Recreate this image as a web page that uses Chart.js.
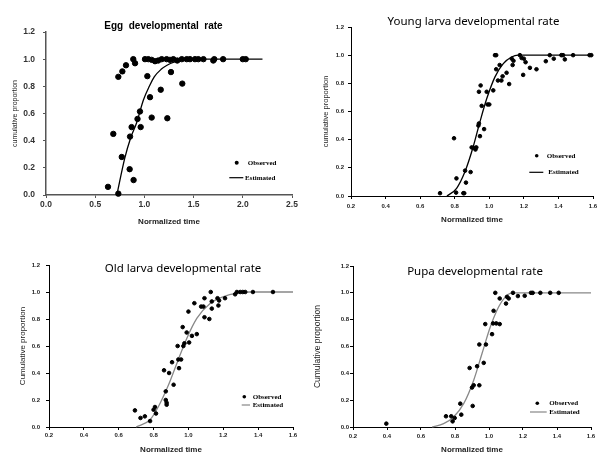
<!DOCTYPE html>
<html>
<head>
<meta charset="utf-8">
<script src="https://cdn.jsdelivr.net/npm/chart.js@4"></script>
<style>
body { margin: 0; background: #fff; }
#wrap { position: relative; width: 607px; height: 460px; }
canvas { position: absolute; }
</style>
</head>
<body>
<div id="wrap">
  <canvas id="egg" width="300" height="230" style="left:0;top:0"></canvas>
  <canvas id="young" width="307" height="230" style="left:300px;top:0"></canvas>
  <canvas id="old" width="300" height="230" style="left:0;top:230px"></canvas>
  <canvas id="pupa" width="307" height="230" style="left:300px;top:230px"></canvas>
</div>
<script>
// observed points and fitted curves
const eggObsX = [0.63,0.684,0.735,0.735,0.77,0.776,0.813,0.85,0.854,0.87,0.89,0.887,0.905,0.93,0.955,0.962,1.006,1.03,1.04,1.057,1.074,1.074,1.108,1.14,1.166,1.176,1.226,1.233,1.26,1.27,1.294,1.334,1.38,1.385,1.43,1.463,1.514,1.548,1.60,1.70,1.71,1.80,2.0,2.03];
const eggObsY = [0.06,0.45,0.01,0.87,0.28,0.91,0.955,0.19,0.43,0.50,0.11,1.0,0.97,0.56,0.615,0.50,1.0,0.875,1.0,0.72,0.57,0.995,0.985,0.99,0.775,1.0,1.0,0.565,0.995,0.905,1.0,0.99,1.0,0.82,1.0,1.0,1.0,1.0,1.0,0.99,1.0,1.0,1.0,1.0];
const eggFitX = [0.72,0.80,0.86,0.92,0.99,1.05,1.10,1.17,1.23,1.30,1.40,1.50,2.20];
const eggFitY = [0,0.27,0.42,0.53,0.70,0.80,0.87,0.925,0.955,0.978,0.995,1.0,1.0];

const youngObsX = [0.715,0.796,0.808,0.81,0.85,0.855,0.86,0.865,0.892,0.898,0.915,0.92,0.925,0.94,0.937,0.94,0.946,0.95,0.956,0.97,0.985,0.99,1.0,1.023,1.033,1.04,1.04,1.05,1.06,1.07,1.077,1.10,1.115,1.13,1.135,1.14,1.177,1.187,1.196,1.2,1.21,1.235,1.273,1.327,1.35,1.373,1.417,1.427,1.437,1.485,1.58,1.59];
const youngObsY = [0.02,0.41,0.024,0.125,0.02,0.02,0.18,0.095,0.17,0.345,0.34,0.33,0.345,0.515,0.50,0.74,0.425,0.785,0.64,0.475,0.74,0.65,0.65,0.75,1.0,1.0,0.90,0.82,0.93,0.82,0.85,0.875,0.795,0.975,0.93,0.96,1.0,0.98,0.86,0.975,0.95,0.91,0.90,0.957,1.0,0.975,1.0,1.0,0.97,1.0,1.0,1.0];
const youngFitX = [0.755,0.811,0.859,0.907,0.946,0.985,1.033,1.081,1.129,1.167,1.6];
const youngFitY = [0,0.055,0.172,0.35,0.527,0.69,0.846,0.94,0.987,1.0,1.0];

const oldObsX = [0.693,0.725,0.75,0.78,0.80,0.808,0.814,0.86,0.87,0.87,0.875,0.875,0.889,0.906,0.915,0.938,0.942,0.946,0.958,0.967,0.971,0.977,0.99,1.0,1.004,1.02,1.034,1.048,1.073,1.086,1.092,1.092,1.12,1.128,1.134,1.134,1.167,1.172,1.176,1.21,1.268,1.278,1.297,1.312,1.326,1.37,1.485];
const oldObsY = [0.123,0.067,0.079,0.044,0.128,0.148,0.10,0.42,0.20,0.264,0.18,0.165,0.40,0.48,0.313,0.60,0.50,0.436,0.50,0.74,0.60,0.62,0.70,0.855,0.626,0.675,0.917,0.688,0.892,0.892,0.813,0.954,0.80,1.0,0.93,0.877,0.954,0.90,0.937,0.954,0.983,1.0,1.0,1.0,1.0,1.0,1.0];
const oldFitX = [0.70,0.78,0.828,0.886,0.934,0.991,1.049,1.126,1.202,1.28,1.35,1.6];
const oldFitY = [0,0.054,0.152,0.313,0.473,0.658,0.806,0.917,0.966,0.991,1.0,1.0];

const pupaObsX = [0.396,0.747,0.778,0.786,0.798,0.831,0.837,0.886,0.90,0.904,0.91,0.93,0.943,0.943,0.969,0.978,0.982,1.018,1.024,1.027,1.037,1.043,1.063,1.063,1.10,1.106,1.116,1.141,1.17,1.21,1.247,1.257,1.302,1.36,1.41];
const pupaObsY = [0.025,0.08,0.08,0.042,0.067,0.174,0.092,0.44,0.294,0.157,0.311,0.453,0.311,0.615,0.478,0.767,0.615,0.692,0.772,0.866,1.0,0.772,0.767,0.958,0.92,0.97,0.958,1.0,0.976,0.978,1.0,1.0,1.0,1.0,1.0];
const pupaFitX = [0.665,0.733,0.792,0.851,0.91,0.959,1.008,1.057,1.096,1.125,1.165,1.6];
const pupaFitY = [0,0.025,0.075,0.174,0.349,0.548,0.747,0.896,0.97,0.996,1.0,1.0];

const toPts = (xs, ys) => xs.map((x, i) => ({ x: x, y: ys[i] }));

// title + in-plot legend
const panelText = {
    id: 'panelText',
    afterDraw(chart, args, o) {
        const ctx = chart.ctx;
        ctx.save();
        ctx.fillStyle = '#000';
        ctx.textBaseline = 'middle';
        ctx.textAlign = 'center';
        ctx.font = o.titleFont;
        ctx.fillText(o.title, o.titleX, o.titleY);

        ctx.textAlign = 'left';
        ctx.font = o.legendFont;
        ctx.beginPath();
        ctx.arc(o.dotX, o.dotY, o.dotR, 0, Math.PI * 2);
        ctx.fill();
        ctx.fillText('Observed', o.obsTextX, o.dotY);
        ctx.strokeStyle = o.lineColor;
        ctx.lineWidth = 1.2;
        ctx.beginPath();
        ctx.moveTo(o.lineX1, o.lineY);
        ctx.lineTo(o.lineX2, o.lineY);
        ctx.stroke();
        ctx.fillText('Estimated', o.estTextX, o.lineY);
        ctx.restore();
    }
};

function makePanel(id, p) {
    new Chart(document.getElementById(id), {
        type: 'scatter',
        data: {
            datasets: [{
                label: 'Observed',
                data: toPts(p.obsX, p.obsY),
                backgroundColor: '#000',
                borderColor: '#000',
                pointRadius: p.dotR,
                clip: false
            }, {
                label: 'Estimated',
                data: toPts(p.fitX, p.fitY),
                showLine: true,
                borderColor: p.lineColor,
                borderWidth: 1.3,
                pointRadius: 0,
                cubicInterpolationMode: 'monotone',
                clip: false
            }]
        },
        options: {
            responsive: false,
            animation: false,
            layout: { padding: { left: 0, top: p.top, right: p.right, bottom: 0 } },
            plugins: {
                legend: { display: false },
                tooltip: { enabled: false },
                panelText: p.text
            },
            scales: {
                x: {
                    type: 'linear',
                    min: p.xMin, max: p.xMax,
                    afterFit: s => { s.height = p.xH; },
                    border: { display: true, color: p.axisColor, width: p.axisW },
                    grid: { display: true, drawOnChartArea: false, drawTicks: true, tickLength: 3, color: p.axisColor },
                    ticks: {
                        stepSize: p.xStep, color: p.tickColor, padding: p.xPad,
                        font: { family: 'Liberation Sans', size: p.tickSize, weight: 'bold' },
                        maxRotation: 0,
                        callback: v => v.toFixed(1)
                    },
                    title: {
                        display: true, text: 'Normalized time', color: '#222',
                        font: { family: 'Liberation Sans', size: 8, weight: 'bold' },
                        padding: { top: 0, bottom: p.xTitlePad }
                    }
                },
                y: {
                    min: 0, max: 1.2,
                    afterFit: s => { s.width = p.yW; },
                    border: { display: true, color: p.axisColor, width: p.axisW },
                    grid: { display: true, drawOnChartArea: false, drawTicks: true, tickLength: 3, color: p.axisColor },
                    ticks: {
                        stepSize: 0.2, color: p.tickColor, padding: p.yPad,
                        font: { family: 'Liberation Sans', size: p.tickSize, weight: 'bold' },
                        callback: v => v.toFixed(1)
                    },
                    title: {
                        display: true, text: p.yTitle, color: '#222',
                        font: { family: 'Liberation Sans', size: p.yTitleSize },
                        padding: { top: p.yTitlePad, bottom: 0 }
                    }
                }
            }
        },
        plugins: [panelText]
    });
}

const serif = 'bold 7px "Liberation Serif"';
const sans = '11.5px "Noto Sans"';

makePanel('egg', {
    obsX: eggObsX, obsY: eggObsY, fitX: eggFitX, fitY: eggFitY,
    dotR: 2.7, lineColor: '#000', axisColor: '#555', axisW: 1.5, tickColor: '#333', tickSize: 8.5,
    xMin: 0, xMax: 2.5, xStep: 0.5, top: 32, right: 8, xH: 35, yW: 46,
    xPad: 2, yPad: 8, xTitlePad: 3.5, yTitle: 'cumulative proportion', yTitleSize: 7, yTitlePad: 10.8,
    text: { title: 'Egg  developmental  rate', titleFont: 'bold 10px "Liberation Sans"', titleX: 163.5, titleY: 26,
        legendFont: serif, dotX: 236.7, dotY: 162.7, dotR: 2, obsTextX: 247.7,
        lineX1: 229.3, lineX2: 243.3, lineY: 177.7, estTextX: 245, lineColor: '#000' }
});

makePanel('young', {
    obsX: youngObsX, obsY: youngObsY, fitX: youngFitX, fitY: youngFitY,
    dotR: 1.8, lineColor: '#000', axisColor: '#000', axisW: 1, tickColor: '#222', tickSize: 6,
    xMin: 0.2, xMax: 1.6, xStep: 0.2, top: 27, right: 14, xH: 34, yW: 51,
    xPad: 4, yPad: 4, xTitlePad: 5.2, yTitle: 'cumulative proportion', yTitleSize: 7.5, yTitlePad: 21.5,
    text: { title: 'Young larva developmental rate', titleFont: sans, titleX: 173.5, titleY: 22,
        legendFont: serif, dotX: 236.7, dotY: 155.7, dotR: 1.8, obsTextX: 246.7,
        lineX1: 229.3, lineX2: 243.3, lineY: 172.3, estTextX: 248.3, lineColor: '#000' }
});

makePanel('old', {
    obsX: oldObsX, obsY: oldObsY, fitX: oldFitX, fitY: oldFitY,
    dotR: 1.8, lineColor: '#888', axisColor: '#000', axisW: 1, tickColor: '#222', tickSize: 6,
    xMin: 0.2, xMax: 1.6, xStep: 0.2, top: 35, right: 7, xH: 33, yW: 49,
    xPad: 2, yPad: 6, xTitlePad: 5.2, yTitle: 'Cumulative proportion', yTitleSize: 8, yTitlePad: 17.9,
    text: { title: 'Old larva developmental rate', titleFont: sans, titleX: 183, titleY: 39,
        legendFont: serif, dotX: 244.3, dotY: 166.7, dotR: 1.8, obsTextX: 252.7,
        lineX1: 241.7, lineX2: 250, lineY: 175, estTextX: 252.7, lineColor: '#888' }
});

makePanel('pupa', {
    obsX: pupaObsX, obsY: pupaObsY, fitX: pupaFitX, fitY: pupaFitY,
    dotR: 1.8, lineColor: '#888', axisColor: '#000', axisW: 1, tickColor: '#222', tickSize: 6,
    xMin: 0.2, xMax: 1.6, xStep: 0.2, top: 36, right: 16, xH: 33, yW: 53,
    xPad: 2.7, yPad: 1, xTitlePad: 5.2, yTitle: 'Cumulative proportion', yTitleSize: 8.5, yTitlePad: 12.9,
    text: { title: 'Pupa developmental rate', titleFont: sans, titleX: 175, titleY: 42,
        legendFont: serif, dotX: 237.3, dotY: 173.3, dotR: 1.8, obsTextX: 249.3,
        lineX1: 230, lineX2: 246.7, lineY: 182, estTextX: 249.3, lineColor: '#888' }
});
</script>
</body>
</html>
